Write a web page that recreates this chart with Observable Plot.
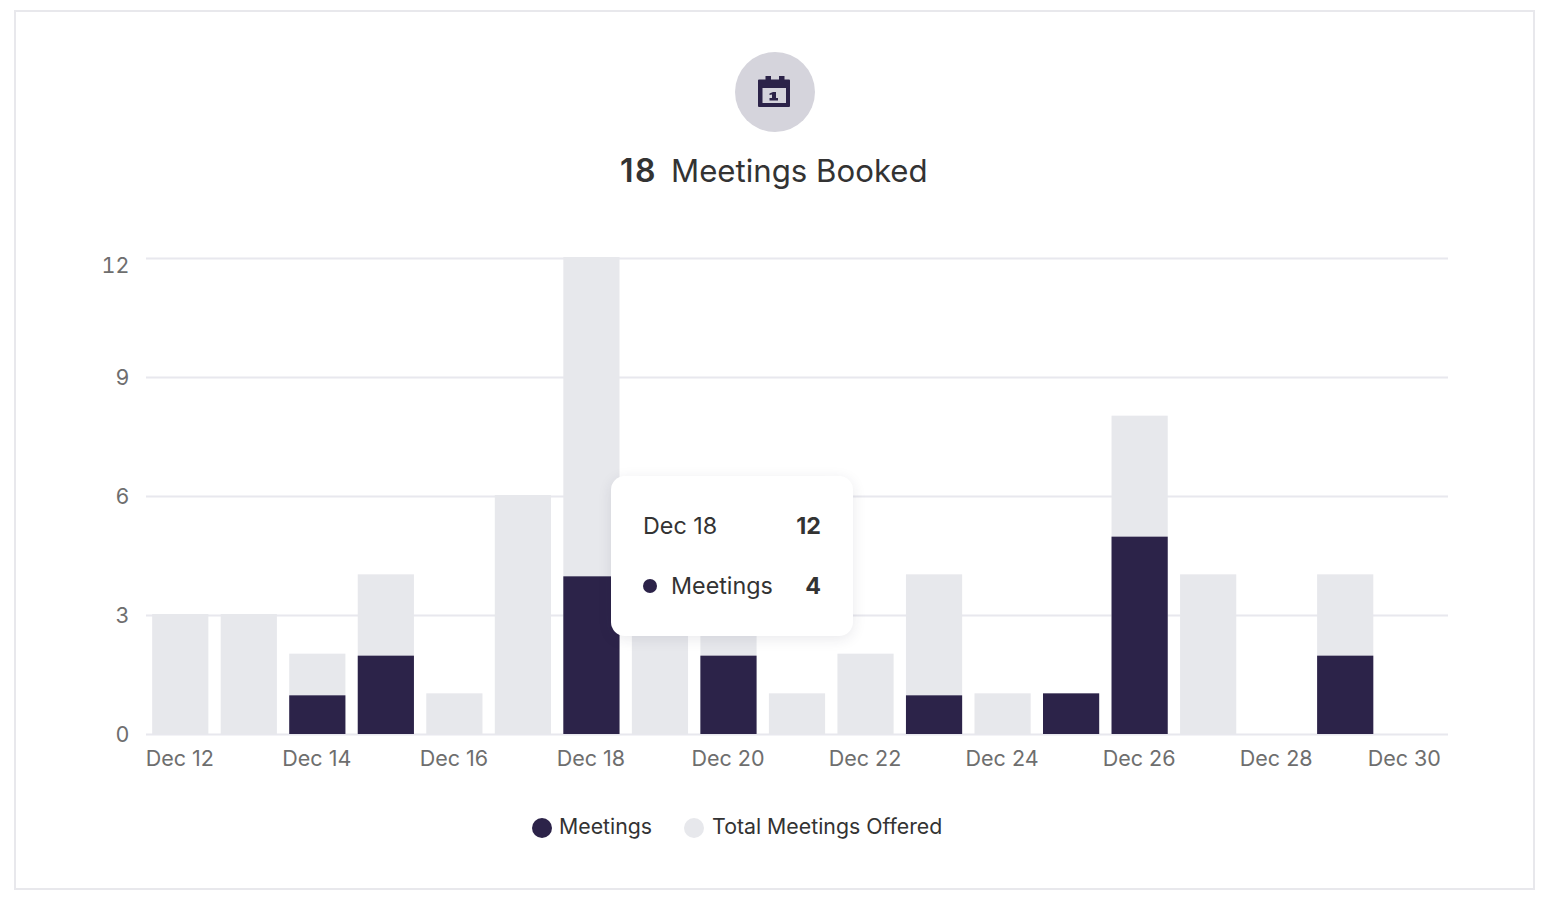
<!DOCTYPE html>
<html>
<head>
<meta charset="utf-8">
<script src="https://cdn.jsdelivr.net/npm/d3@7"></script>
<script src="https://cdn.jsdelivr.net/npm/@observablehq/plot@0.6"></script>
<style>
  html, body { margin: 0; padding: 0; background: #fff; }
  body { width: 1548px; height: 900px; position: relative; overflow: hidden; font-family: Inter, sans-serif; color: #333; }
  #card { position: absolute; left: 14px; top: 10px; width: 1517px; height: 876px; border: 2px solid #e8e8ec; }
  #icon { position: absolute; left: 735px; top: 52px; }
  #title { position: absolute; left: 0; width: 1548px; top: 151px; height: 40px; font-size: 31.2px; line-height: 40px; white-space: pre; }
  #title b { position: absolute; left: 620px; font-weight: 600; font-size: 32px; letter-spacing: 1.5px; }
  #title span { position: absolute; left: 671px; }
  #chart { position: absolute; left: 0; top: 220px; }
  #legend { position: absolute; top: 811px; left: 532px; font-size: 21.3px; line-height: 30px; display: flex; }
  #legend i { display: inline-block; width: 20px; height: 20px; border-radius: 50%; vertical-align: -4px; margin-right: 7px; }
  #legend span { margin-right: 32px; }
  #legend span + span i { margin-right: 8px; }
  #tip { position: absolute; left: 611px; top: 476px; width: 242px; height: 160px; background: #fff; border-radius: 14px; box-shadow: 0 3px 14px rgba(40,35,70,.10); font-size: 23.3px; }
  #tip div { position: absolute; white-space: nowrap; line-height: 30px; }
  #tip i { position: absolute; left: 32px; top: 103px; width: 14px; height: 14px; border-radius: 50%; background: #2c2349; }
</style>
</head>
<body>
<div id="card"></div>
<svg id="icon" width="80" height="80" viewBox="0 0 80 80">
  <circle cx="40" cy="40" r="40" fill="#d5d4dc"/>
  <path fill="#2c2349" fill-rule="evenodd" d="M30.500 24h5.500v3.500h8V24h5.500v3.500h4.500a1 1 0 0 1 1 1V54a1 1 0 0 1-1 1H24a1 1 0 0 1-1-1V28.500a1 1 0 0 1 1-1h6.500zM27.500 36v15h23.500V36z"/>
  <path fill="#2c2349" d="M34.500 41.500l3.500-1.500h3v6h2v2.500h-8.500V46h2.500v-3.500l-2.500.5z"/>
</svg>
<div id="title"></div>
<div id="chart"></div>
<div id="legend"></div>
<div id="tip"></div>
<script>
const days = ["Dec 12","Dec 13","Dec 14","Dec 15","Dec 16","Dec 17","Dec 18","Dec 19","Dec 20","Dec 21","Dec 22","Dec 23","Dec 24","Dec 25","Dec 26","Dec 27","Dec 28","Dec 29","Dec 30"];
const meetings = [0,0,1,2,0,0,4,0,2,0,0,1,0,1,5,0,0,2,0];
const offered = [3,3,2,4,1,6,12,3,3,1,2,4,1,1,8,4,0,4,0];
const yTicks = [0,3,6,9,12];
const xTicks = ["Dec 12","Dec 14","Dec 16","Dec 18","Dec 20","Dec 22","Dec 24","Dec 26","Dec 28"];
const lastTick = ["Dec 30"];
const seriesNames = ["Meetings","Total Meetings Offered"];
const seriesColors = ["#2c2349","#e7e8ec"];
const booked = 18;
const hoverIndex = days.indexOf("Dec 18");

const rows = days.map((d, i) => ({day: d, meetings: meetings[i], offered: offered[i]}));
const tickFont = {fontSize: 21.5, fill: "#6e6e6e", fontFamily: "Inter, sans-serif"};

const plot = Plot.plot({
  width: 1548,
  height: 560,
  marginTop: 38,
  marginBottom: 46,
  marginLeft: 146,
  marginRight: 100,
  style: {background: "transparent", fontFamily: "Inter, sans-serif", overflow: "visible"},
  x: {type: "band", domain: days, paddingInner: 0.18, paddingOuter: 0.09, round: false, axis: null},
  y: {domain: [0, 12], axis: null},
  marks: [
    Plot.ruleY(yTicks, {stroke: "#e8e8ee", strokeWidth: 2}),
    Plot.barY(rows.filter((d) => d.offered > d.meetings), {x: "day", y: "offered", fill: seriesColors[1], insetTop: -1}),
    Plot.barY(rows.filter((d) => d.meetings > 0 && d.meetings < d.offered), {x: "day", y: "meetings", fill: seriesColors[0], insetTop: 1}),
    // a day where every offered meeting was booked is all dark, up to the full height
    Plot.barY(rows.filter((d) => d.meetings > 0 && d.meetings == d.offered), {x: "day", y: "meetings", fill: seriesColors[0], insetTop: -1}),
    // the top label sits below its gridline, as in the original
    Plot.text(yTicks.filter((d) => d < 12), {y: (d) => d, frameAnchor: "left", dx: -17, dy: 1, textAnchor: "end", ...tickFont}),
    Plot.text([12], {y: (d) => d, frameAnchor: "left", dx: -17, dy: 8, textAnchor: "end", ...tickFont}),
    Plot.text(xTicks, {x: (d) => d, frameAnchor: "bottom", dx: -1, dy: 31, ...tickFont}),
    Plot.text(lastTick, {x: (d) => d, frameAnchor: "bottom", dx: -10, dy: 31, ...tickFont}),
  ],
});
document.getElementById("chart").append(plot);

d3.select("#title").html(`<b>${booked}</b><span>Meetings Booked</span>`);

d3.select("#legend").selectAll("span").data(seriesNames).join("span")
  .html((d, i) => `<i style="background:${seriesColors[i]}"></i>${d}`);

const tip = d3.select("#tip");
tip.append("div").style("left", "32px").style("top", "35px").text(days[hoverIndex]);
tip.append("div").style("right", "32px").style("top", "35px").style("font-weight", 700).text(offered[hoverIndex]);
tip.append("i");
tip.append("div").style("left", "60px").style("top", "95px").text(seriesNames[0]);
tip.append("div").style("right", "32px").style("top", "95px").style("font-weight", 700).text(meetings[hoverIndex]);
</script>
</body>
</html>
